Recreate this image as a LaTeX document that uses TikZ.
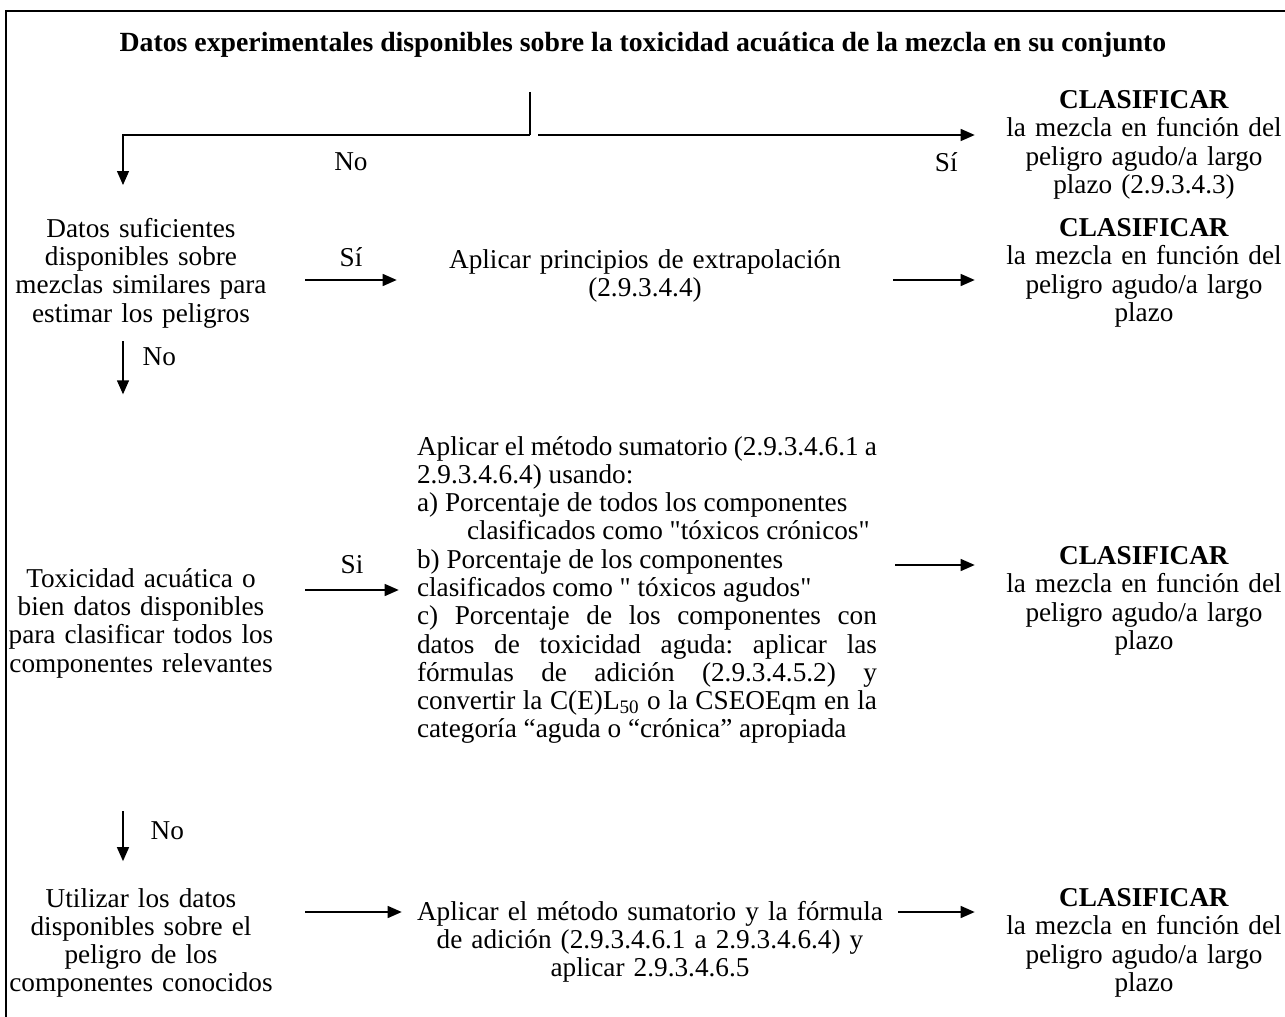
\documentclass[tikz,border=0pt]{standalone}
\usepackage{fontspec}
\setmainfont{Liberation Serif}[Ligatures=TeXOff]
\usetikzlibrary{arrows.meta, positioning}

\begin{document}
\begin{tikzpicture}[x=0.02cm, y=-0.02cm, font=\fontsize{15.5}{16.1}\selectfont\frenchspacing,
    leftcol/.style={text width=6.56cm, inner sep=0pt, align=center},
    midcol/.style={text width=9.92cm, inner sep=0pt, align=center},
    rightcol/.style={text width=6.76cm, inner sep=0pt, align=center},
    lbl/.style={inner sep=0pt},
    arr/.style={-{Triangle[length=0.28cm, width=0.24cm]}, line width=0.8pt},
    link/.style={line width=0.8pt}]

    \useasboundingbox (0,0) rectangle (1285,1017);
    \draw [line width=1.2pt] (1285,11) -| (6,1017);

    \node (title) at (643,45) {\fontsize{15.8}{16.1}\selectfont\textbf{Datos experimentales disponibles sobre la toxicidad acuática de la mezcla en su conjunto}};

    % decision points
    \coordinate (stem) at (530,92);
    \coordinate (split) at (530,135);
    \coordinate (c1) at (123,185);

    \node (clsA) [rightcol] at (1144,145) {\textbf{CLASIFICAR}\\la mezcla en función del\\peligro agudo/a largo\\plazo (2.9.3.4.3)};

    \node (q2) [leftcol] at (141,273) {Datos suficientes\\disponibles sobre\\mezclas similares para\\estimar los peligros};
    \node (ext) [midcol] at (645,276) {Aplicar principios de extrapolación\\(2.9.3.4.4)};
    \node (clsB) [rightcol] at (1144,273) {\textbf{CLASIFICAR}\\la mezcla en función del\\peligro agudo/a largo\\plazo};

    \node (q3) [leftcol] at (141,623) {Toxicidad acuática o\\bien datos disponibles\\para clasificar todos los\\componentes relevantes};
    \node (sum) [text width=9.2cm, inner xsep=0.36cm, inner ysep=0pt, align=justify] at (647,590)
      {Aplicar el método sumatorio (2.9.3.4.6.1 a\linebreak
       2.9.3.4.6.4) usando:\newline
       a) Porcentaje de todos los componentes\newline
       \hspace*{1cm}clasificados como "tóxicos crónicos"\newline
       b) Porcentaje de los componentes\newline
       clasificados como " tóxicos agudos"\newline
       c) Porcentaje de los componentes con\linebreak
       datos de toxicidad aguda: aplicar las\linebreak
       fórmulas de adición (2.9.3.4.5.2) y\linebreak
       convertir la C(E)L\textsubscript{50} o la CSEOEqm en la\linebreak
       categoría “aguda o “crónica” apropiada};
    \node (clsC) [rightcol] at (1144,601) {\textbf{CLASIFICAR}\\la mezcla en función del\\peligro agudo/a largo\\plazo};

    \node (q4) [leftcol] at (141,943) {Utilizar los datos\\disponibles sobre el\\peligro de los\\componentes conocidos};
    \node (sum2) [midcol] at (650,942) {Aplicar el método sumatorio y la fórmula\\de adición (2.9.3.4.6.1 a 2.9.3.4.6.4) y\\aplicar 2.9.3.4.6.5};
    \node (clsD) [rightcol] at (1144,943) {\textbf{CLASIFICAR}\\la mezcla en función del\\peligro agudo/a largo\\plazo};

    % arrow levels
    \coordinate (r2) at (0,280);
    \coordinate (r3) at (0,590);
    \coordinate (r3b) at (0,565);
    \coordinate (r4) at (0,912);

    \draw [link] (stem) -- (split);
    \draw [arr] (split) -| node [lbl, pos=0.22, below=0.34cm] {No} (c1);
    \draw [arr] ([xshift=0.16cm]split) -- node [lbl, pos=0.935, below=0.34cm] {Sí} (clsA.west |- split);

    \draw [arr] (q2.east |- r2) -- node [lbl, above=0.26cm] {Sí} (ext.west |- r2);
    \draw [arr] (ext.east |- r2) -- (clsB.west |- r2);
    \draw [arr] (q2.south -| c1) ++(0,13) -- ++(0,53) node [lbl, pos=0.3, right=0.38cm] {No};

    \draw [arr] (q3.east |- r3) -- node [lbl, above=0.32cm] {Si} (sum.west |- r3);
    \draw [arr] (sum.east |- r3b) -- (clsC.west |- r3b);
    \draw [arr] (q3.south -| c1) ++(0,133) -- ++(0,50) node [lbl, pos=0.4, right=0.54cm] {No};

    \draw [arr] (q4.east |- r4) -- (sum2.west |- r4);
    \draw [arr] (sum2.east |- r4) -- (clsD.west |- r4);
\end{tikzpicture}
\end{document}
